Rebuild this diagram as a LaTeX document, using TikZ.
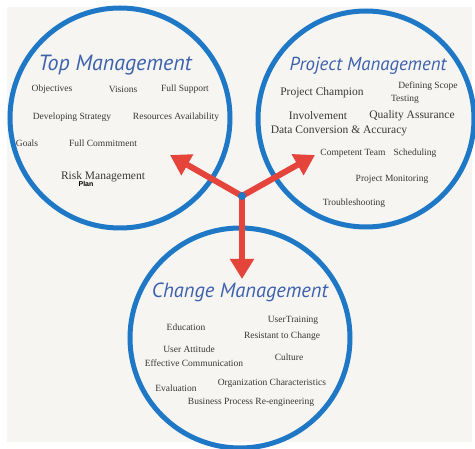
\documentclass[tikz,border=0pt]{standalone}
\usepackage{fontspec}
\setmainfont{Liberation Serif}
\newfontfamily\titlefont{PT Sans}
\newfontfamily\planfont{Liberation Sans}
\usetikzlibrary{arrows.meta}
\definecolor{ringblue}{HTML}{1F78C6}
\definecolor{titleblue}{HTML}{3D62AD}
\definecolor{arrowred}{HTML}{E5443A}
\definecolor{paper}{HTML}{F6F5F2}
\definecolor{ink}{HTML}{383838}

\begin{document}
\begin{tikzpicture}[x=1pt, y=-1pt,
	ring/.style={circle, draw=ringblue, line width=5pt, minimum size=220pt, inner sep=0pt},
	head/.style={font=\titlefont\itshape\fontsize{#1}{#1}\selectfont, text=titleblue},
	item/.style={font=\fontsize{9.5}{10}\selectfont, text=ink, inner sep=0pt},
	bigitem/.style={item, font=\fontsize{11.5}{12}\selectfont},
	pointer/.style={draw=arrowred, line width=6pt, -{Triangle[width=23pt,length=20pt]}}]
\useasboundingbox (0,0) rectangle (475,449);
\fill[white] (0,0) rectangle (475,449);
\fill[paper] (7,7) rectangle (472,442);

% the three circles
\node[ring] (top) at (120,118) {};
\node[ring, minimum size=216pt] (proj) at (366,119) {};
\node[ring] (chg) at (240,338) {};

% Top Management
\node[head=22] (topT) at (115,65) {Top Management};
\node[item] (t1) at (52,89) {Objectives};
\node[item] (t2) at (123,89) {Visions};
\node[item] (t3) at (185,89) {Full Support};
\node[item] (t4) at (72,117) {Developing Strategy};
\node[item] (t5) at (176,117) {Resources Availability};
\node[item] (t6) at (27,143) {Goals};
\node[item] (t7) at (103,143) {Full Commitment};
\node[bigitem] (t8) at (103,177) {Risk Management};
\node[inner sep=0pt, font=\planfont\bfseries\fontsize{7}{7}\selectfont] (t9) at (86,184) {Plan};

% Project Management
\node[head=18.8] (projT) at (368,66) {Project Management};
\node[bigitem] (p1) at (322,93) {Project Champion};
\node[item] (p2) at (428,86) {Defining Scope};
\node[item] (p3) at (405,99) {Testing};
\node[bigitem] (p4) at (318,116) {Involvement};
\node[bigitem] (p5) at (412,116) {Quality Assurance};
\node[bigitem] (p6) at (339,131) {Data Conversion \& Accuracy};
\node[item] (p7) at (353,153) {Competent Team};
\node[item] (p8) at (415,153) {Scheduling};
\node[item] (p9) at (392,179) {Project Monitoring};
\node[item] (p10) at (354,203) {Troubleshooting};

% Change Management
\node[head=20.5] (chgT) at (240,292) {Change Management};
\node[item] (c1) at (293,320) {UserTraining};
\node[item] (c2) at (186,327) {Education};
\node[item] (c3) at (282,336) {Resistant to Change};
\node[item] (c4) at (189,349) {User Attitude};
\node[item] (c5) at (289,357) {Culture};
\node[item] (c6) at (194,363) {Effective Communication};
\node[item] (c7) at (272,383) {Organization Characteristics};
\node[item] (c8) at (176,388) {Evaluation};
\node[item] (c9) at (251,402) {Business Process Re-engineering};

% arrows from the hub
\node[circle, fill=ringblue, minimum size=8pt, inner sep=0pt] (hub) at (242,196) {};
\coordinate (toTop) at (170,155);
\coordinate (toProj) at (315,155);
\coordinate (toChg) at (242,279);
\draw[pointer] (hub.center) -- (toTop);
\draw[pointer] (hub.center) -- (toProj);
\draw[pointer] (hub.center) -- (toChg);
\node[circle, fill=ringblue, minimum size=8pt, inner sep=0pt] at (hub) {};
\end{tikzpicture}
\end{document}
